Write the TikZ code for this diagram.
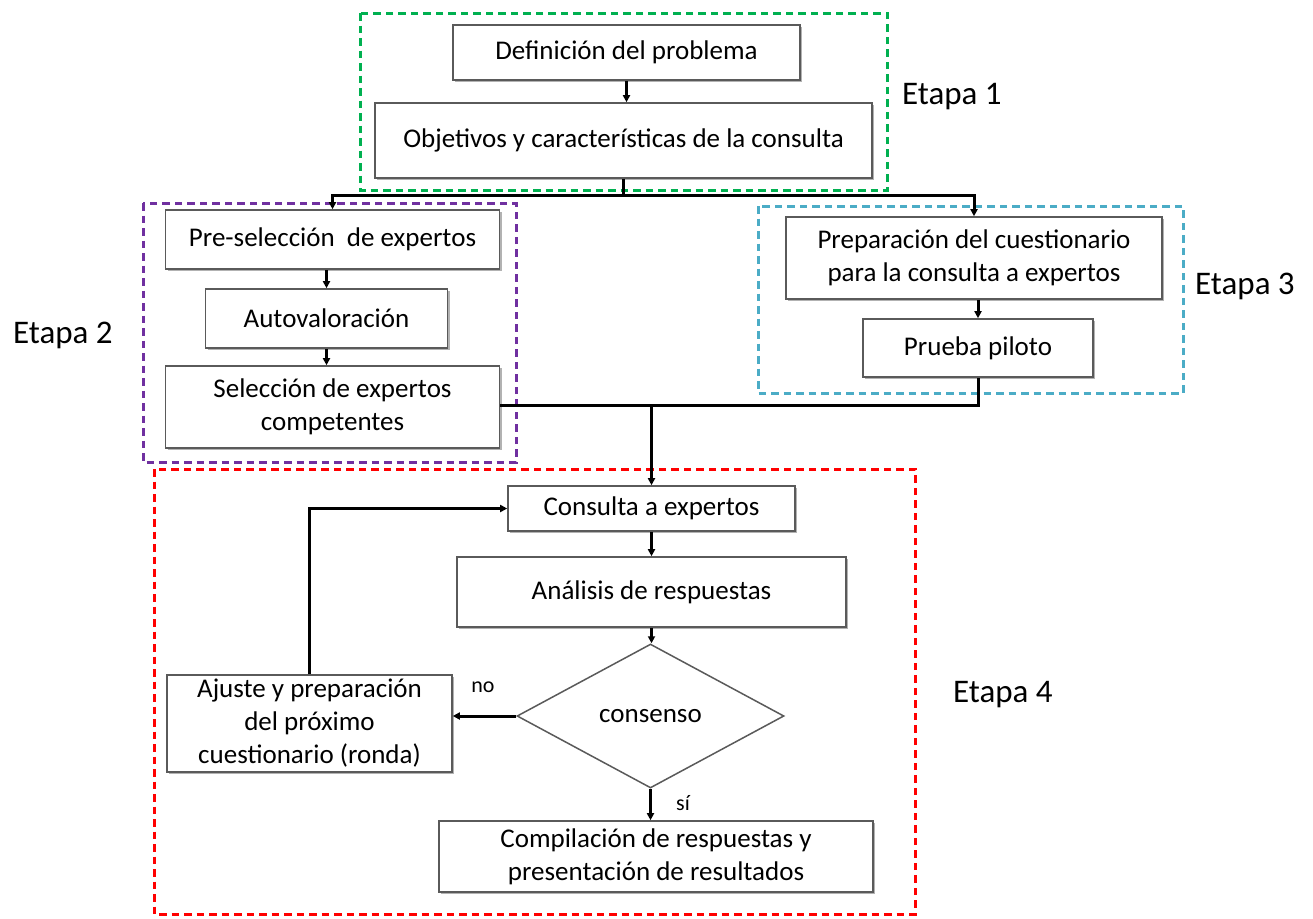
\documentclass[tikz,border=0pt]{standalone}
\usepackage{fontspec}
\setmainfont{Carlito}
\usetikzlibrary{arrows.meta,shapes.geometric,shadows}
\definecolor{cgreen}{HTML}{00B050}
\definecolor{cpurple}{HTML}{7030A0}
\definecolor{ccyan}{HTML}{4BACC6}
\definecolor{cred}{HTML}{FF0000}
\definecolor{boxline}{HTML}{5A5A5A}
\tikzset{
  frame/.style={line width=3pt, dash pattern=on 7.5pt off 5pt},
  bx/.style={draw=boxline, line width=1.6pt, fill=white, align=center,
    inner sep=2pt, font=\fontsize{27}{33}\selectfont,
    drop shadow={shadow xshift=2pt, shadow yshift=-2pt, fill=black, opacity=0.3}},
  dec/.style={draw=boxline, line width=1.5pt, fill=white, diamond, inner sep=0pt,
    font=\fontsize{27}{33}\selectfont},
  conn/.style={line width=3pt, black},
  arr/.style={conn, -{Triangle[length=7pt,width=7pt]}},
  stage/.style={font=\fontsize{33}{40}\selectfont, anchor=base west, inner sep=0pt},
  lbl/.style={font=\fontsize{22}{26}\selectfont, inner sep=0pt},
}
\begin{document}
\begin{tikzpicture}[x=1pt,y=-1pt]
\useasboundingbox (0,0) rectangle (1313,918);
% dashed stage frames
\draw[frame, cgreen] (360,13) rectangle (887,190);
\draw[frame, cpurple] (143,203) rectangle (516,462);
\draw[frame, ccyan] (758,206) rectangle (1183,393);
\draw[frame, cred] (154,469) rectangle (915,914);
% boxes
\node[bx, minimum width=347pt, minimum height=55pt] (def) at (626.5,52.5) {Definición del problema};
\node[bx, minimum width=497pt, minimum height=75pt] (obj) at (623.5,140.5) {Objetivos y características de la consulta};
\node[bx, minimum width=334pt, minimum height=59pt] (pre) at (332.5,239.5) {Pre-selección~ de expertos};
\node[bx, minimum width=242pt, minimum height=59pt] (auto) at (326.5,318.5) {Autovaloración};
\node[bx, minimum width=334pt, minimum height=82pt] (sel) at (332.5,407) {Selección de expertos\\competentes};
\node[bx, minimum width=376pt, minimum height=82pt] (prep) at (974,258) {Preparación del cuestionario\\para la consulta a expertos};
\node[bx, minimum width=230pt, minimum height=58pt] (pru) at (978,348) {Prueba piloto};
\node[bx, minimum width=287pt, minimum height=45pt] (cons) at (651.5,508.5) {Consulta a expertos};
\node[bx, minimum width=389pt, minimum height=70pt] (anal) at (651.5,592) {Análisis de respuestas};
\node[dec, minimum width=267pt, minimum height=144pt] (dia) at (650.5,716) {consenso};
\node[bx, minimum width=285pt, minimum height=97pt] (aju) at (309.5,723.5) {Ajuste y preparación\\del próximo\\cuestionario (ronda)};
\node[bx, minimum width=434pt, minimum height=71pt] (comp) at (656,856.5) {Compilación de respuestas y\\presentación de resultados};
% stage labels
\node[stage] (e1) at (902,104) {Etapa 1};
\node[stage] (e2) at (13,343) {Etapa 2};
\node[stage] (e3) at (1195,294) {Etapa 3};
\node[stage] (e4) at (953,702) {Etapa 4};
% connectors
\coordinate (lvl1) at (0,195);
\coordinate (lvl2) at (0,405);
\draw[arr] (def.south) -- (def.south |- obj.north);
\draw[conn] (obj.south) -- (obj.south |- lvl1);
\draw[arr] (obj.south |- lvl1) -| (pre.north);
\draw[arr] (obj.south |- lvl1) -| (prep.north);
\draw[arr] (auto.north |- pre.south) -- (auto.north);
\draw[arr] (auto.south) -- (auto.south |- sel.north);
\draw[arr] (prep.south -| pru.north) -- (pru.north);
\draw[conn] (sel.east |- lvl2) -| (pru.south);
\draw[arr] (cons.north |- lvl2) -- (cons.north);
\draw[arr] (cons.south) -- (cons.south |- anal.north);
\draw[arr] (anal.south) -- (anal.south |- dia.north);
\draw[arr] (dia.west) -- (dia.west -| aju.east);
\draw[arr] (dia.south) -- (dia.south |- comp.north);
\draw[arr] (aju.north) |- (cons.west);
\node[lbl] (no) at (483,687) {no};
\node[lbl] (si) at (683,803) {sí};
\end{tikzpicture}
\end{document}
